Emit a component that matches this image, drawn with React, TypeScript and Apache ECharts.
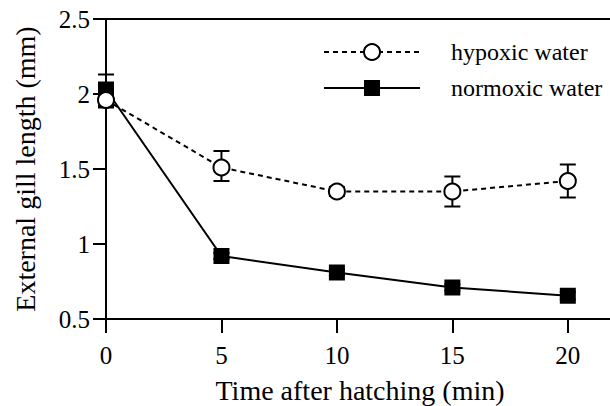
import React, { useEffect, useRef } from "react";
import * as echarts from "echarts";

const times = [0, 5, 10, 15, 20];
const hypoxic = [1.96, 1.51, 1.35, 1.35, 1.42];
const normoxic = [2.03, 0.92, 0.81, 0.71, 0.655];
const hypoxicLow = [1.92, 1.42, 1.32, 1.25, 1.31];
const hypoxicHigh = [2.0, 1.62, 1.38, 1.45, 1.53];
const normoxicLow = [1.91, 0.9, 0.79, 0.69, 0.63];
const normoxicHigh = [2.13, 0.94, 0.83, 0.73, 0.68];
const xTicks = [0, 5, 10, 15, 20];
const seriesNames = ["hypoxic water", "normoxic water"];

const FONT = "Liberation Serif";

export default function App() {
  const ref = useRef<HTMLDivElement>(null);
  useEffect(() => {
    if (!ref.current) return;
    const chart = echarts.init(ref.current, undefined, { renderer: "svg" });
    const errData = (lo: number[], hi: number[]) =>
      times.map((t, i) => [t, lo[i], hi[i]]);
    const renderErr = (params: any, api: any) => {
      const x = api.value(0);
      const p1 = api.coord([x, api.value(1)]);
      const p2 = api.coord([x, api.value(2)]);
      const hw = 8;
      const style = { stroke: "#000", lineWidth: 2 };
      return {
        type: "group",
        children: [
          { type: "line", shape: { x1: p1[0], y1: p1[1], x2: p2[0], y2: p2[1] }, style },
          { type: "line", shape: { x1: p1[0] - hw, y1: p1[1], x2: p1[0] + hw, y2: p1[1] }, style },
          { type: "line", shape: { x1: p2[0] - hw, y1: p2[1], x2: p2[0] + hw, y2: p2[1] }, style },
        ],
      };
    };
    chart.setOption({
      animation: false,
      backgroundColor: "#fff",
      textStyle: { fontFamily: FONT, color: "#000" },
      grid: { left: 106, top: 19, width: 508, height: 300, containLabel: false, outerBoundsMode: "none" },
      legend: {
        data: seriesNames,
        orient: "vertical",
        left: 323,
        top: 40,
        padding: 0,
        itemWidth: 96,
        itemHeight: 20,
        itemGap: 12,
        textStyle: {
          fontFamily: FONT,
          fontSize: 24,
          color: "#000",
          padding: [0, 0, 0, 26],
        },
      },
      xAxis: [
        {
          type: "value",
          min: 0,
          max: 22,
          interval: 5,
          position: "bottom",
          axisLine: { lineStyle: { color: "#000", width: 2 } },
          axisTick: { customValues: xTicks, length: 14, lineStyle: { color: "#000", width: 2 } },
          axisLabel: {
            customValues: xTicks,
            margin: 24,
            fontFamily: FONT,
            fontSize: 25,
            color: "#000",
          },
          splitLine: { show: false },
          name: "Time after hatching (min)",
          nameLocation: "middle",
          nameGap: 57,
          nameTextStyle: { fontSize: 28, color: "#000", fontFamily: FONT },
        },
        {
          type: "value",
          min: 0,
          max: 22,
          position: "top",
          axisLine: { show: true, lineStyle: { color: "#000", width: 2 } },
          axisTick: { show: false },
          axisLabel: { show: false },
          splitLine: { show: false },
        },
      ],
      yAxis: {
        type: "value",
        min: 0.5,
        max: 2.5,
        interval: 0.5,
        axisLine: { show: true, lineStyle: { color: "#000", width: 2 } },
        axisTick: { show: true, length: 13, lineStyle: { color: "#000", width: 2 } },
        axisLabel: {
          margin: 16,
          fontFamily: FONT,
          fontSize: 25,
          color: "#000",
        },
        splitLine: { show: false },
        name: "External gill length (mm)",
        nameLocation: "middle",
        nameGap: 67,
        nameTextStyle: { fontSize: 28, color: "#000", fontFamily: FONT },
      },
      series: [
        {
          type: "custom",
          renderItem: renderErr,
          data: errData(hypoxicLow, hypoxicHigh),
          encode: { x: 0, y: [1, 2] },
          z: 1,
          silent: true,
        },
        {
          type: "custom",
          renderItem: renderErr,
          data: errData(normoxicLow, normoxicHigh),
          encode: { x: 0, y: [1, 2] },
          z: 1,
          silent: true,
        },
        {
          name: seriesNames[1],
          type: "line",
          data: times.map((t, i) => [t, normoxic[i]]),
          symbol: "rect",
          symbolSize: 16,
          lineStyle: { color: "#000", width: 2, type: "solid" },
          itemStyle: { color: "#000", borderColor: "#000", borderWidth: 0 },
          z: 3,
        },
        {
          name: seriesNames[0],
          type: "line",
          data: times.map((t, i) => [t, hypoxic[i]]),
          symbol: "circle",
          symbolSize: 16,
          lineStyle: { color: "#000", width: 2, type: [5, 4] },
          itemStyle: { color: "#fff", borderColor: "#000", borderWidth: 2 },
          z: 4,
        },
      ],
    });
    return () => chart.dispose();
  }, []);
  return <div ref={ref} style={{ width: 610, height: 406, position: "absolute", left: 0, top: 0 }} />;
}
